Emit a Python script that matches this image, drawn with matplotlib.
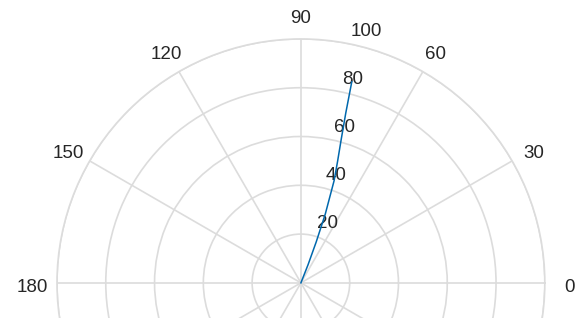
import numpy as np
import matplotlib
matplotlib.use("Agg")
import matplotlib.pyplot as plt
from matplotlib.transforms import ScaledTranslation

# data
theta_deg = [66, 68.5, 69.5, 70.5, 72, 73.2, 74.3, 75.2, 75.8]
r_vals = [0, 8, 18, 30, 44, 52, 61, 72, 85]
theta_ticks = list(range(0, 360, 30))
theta_labels = [str(t) if t <= 180 else '' for t in theta_ticks]
r_ticks = [20, 40, 60, 80, 100]

plt.rcParams['font.family'] = ['Liberation Sans', 'DejaVu Sans']

fig = plt.figure(figsize=(5.78, 3.18), dpi=100)
ax = fig.add_axes([0.0986, -0.657, 0.844, 1.535], projection='polar')

grid_col = '#dcdcdc'
text_col = '#262626'
ax.plot(np.deg2rad(theta_deg), r_vals, color='#0068AD', lw=1.1, zorder=3)

ax.set_ylim(0, 100)
ax.set_thetagrids(theta_ticks, theta_labels)
ax.set_rticks(r_ticks)
ax.set_yticklabels([str(t) for t in r_ticks])
ax.set_rlabel_position(80)
ax.grid(True, color=grid_col, lw=1.2)
ax.spines['polar'].set_color(grid_col)
ax.spines['polar'].set_linewidth(1.2)
ax.tick_params(axis='x', pad=11, length=0, labelsize=13.5, labelcolor=text_col)
ax.tick_params(axis='y', length=0, labelsize=13.5, labelcolor=text_col)

for lab in ax.get_yticklabels():
    lab.set_transform(lab.get_transform() + ScaledTranslation(5.5/72, 2.0/72, fig.dpi_scale_trans))
for lab in ax.get_xticklabels():
    lab.set_transform(lab.get_transform() + ScaledTranslation(0, -3.6/72, fig.dpi_scale_trans))

fig.savefig('out.png', dpi=100)
